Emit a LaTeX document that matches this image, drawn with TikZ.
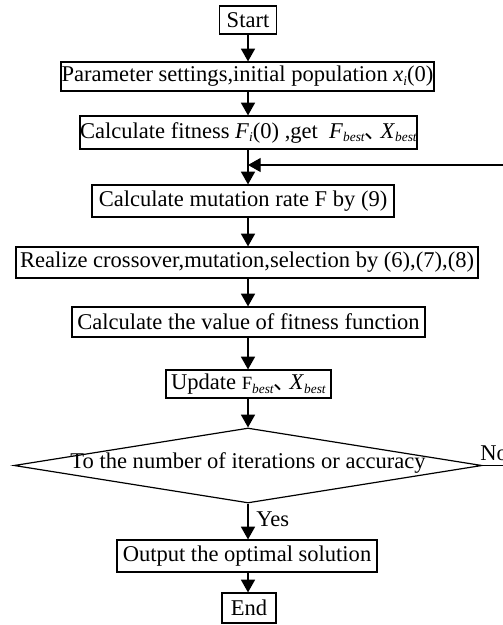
\documentclass[tikz,border=0pt]{standalone}
\usepackage{fontspec}
\setmainfont{Liberation Serif}
\newfontfamily\cjk{Noto Sans CJK SC}
\usepackage{tikz}
\usetikzlibrary{shapes.geometric,arrows.meta}
\newcommand{\itsub}[2]{\textit{#1}\raisebox{-0.35ex}{\fontsize{10}{10}\selectfont\textit{#2}}}
\newcommand{\dunhao}{\makebox[0.55em][l]{\cjk 、}\hspace{0.15em}}

\begin{document}
\begin{tikzpicture}[x=0.75pt,y=-0.75pt]
\tikzstyle{box} = [draw,line width=0.9,inner sep=0,font=\fontsize{16.9}{19}\selectfont];
\tikzstyle{decide} = [draw,line width=0.9,diamond,aspect=6.24,inner sep=0,text height=5pt,text depth=0pt,font=\fontsize{16.9}{19}\selectfont];
\tikzstyle{lbl} = [inner sep=0,font=\fontsize{16.9}{19}\selectfont];
\tikzstyle{arr} = [line width=0.9,-{Triangle[length=9.5pt,width=10.5pt]}];
\useasboundingbox (0,0) rectangle (503,625);
\node [box,minimum width=42.75pt,minimum height=21pt] (v1) at (248,20) {Start};
\node [box,minimum width=279.75pt,minimum height=21.75pt] (v2) at (247.5,76.5) {Parameter settings,initial population \itsub{x}{i}(0)};
\node [box,minimum width=248.25pt,minimum height=24.75pt] (v3) at (248.5,132.5) {Calculate fitness \itsub{F}{i}(0) ,get\hspace{0.5em}\itsub{F}{best}\dunhao\itsub{X}{best}};
\node [box,minimum width=226.5pt,minimum height=24pt] (v4) at (243,201) {Calculate mutation rate F by (9)};
\node [box,minimum width=346.5pt,minimum height=23.25pt] (v5) at (247,262.5) {Realize crossover,mutation,selection by (6),(7),(8)};
\node [box,minimum width=264.75pt,minimum height=22.5pt] (v6) at (248.5,322) {Calculate the value of fitness function};
\node [box,minimum width=123.75pt,minimum height=21pt] (v7) at (248.5,384) {Update {\fontsize{14}{14}\selectfont F}\raisebox{-0.35ex}{\fontsize{10}{10}\selectfont\textit{best}}\dunhao\itsub{X}{best}};
\node [decide,minimum width=351pt,minimum height=56.25pt] (v8) at (248,465.5) {To the number of iterations or accuracy};
\node [box,minimum width=195pt,minimum height=24pt] (v9) at (247,556) {Output the optimal solution};
\node [box,minimum width=40.5pt,minimum height=22.5pt] (v10) at (249,608) {End};
\coordinate (join) at (248,165);
\node [lbl,anchor=base west] (no) at (480,460) {No};
\node [lbl,anchor=base west] (yes) at (256,526) {Yes};
\draw [arr] (v1) -- (v1.south |- v2.north);
\draw [arr] (v1.south |- v2.south) -- (v1.south |- v3.north);
\draw [arr] (v1.south |- v3.south) -- (v1.south |- v4.north);
\draw [arr] (v1.south |- v4.south) -- (v1.south |- v5.north);
\draw [arr] (v1.south |- v5.south) -- (v1.south |- v6.north);
\draw [arr] (v1.south |- v6.south) -- (v1.south |- v7.north);
\draw [arr] (v1.south |- v7.south) -- (v8.north);
\draw [arr] (v8.south) -- (v1.south |- v9.north);
\draw [arr] (v1.south |- v9.south) -- (v1.south |- v10.north);
\draw [arr] (v8.east) -- ++(40,0) |- (join);
\end{tikzpicture}
\end{document}
